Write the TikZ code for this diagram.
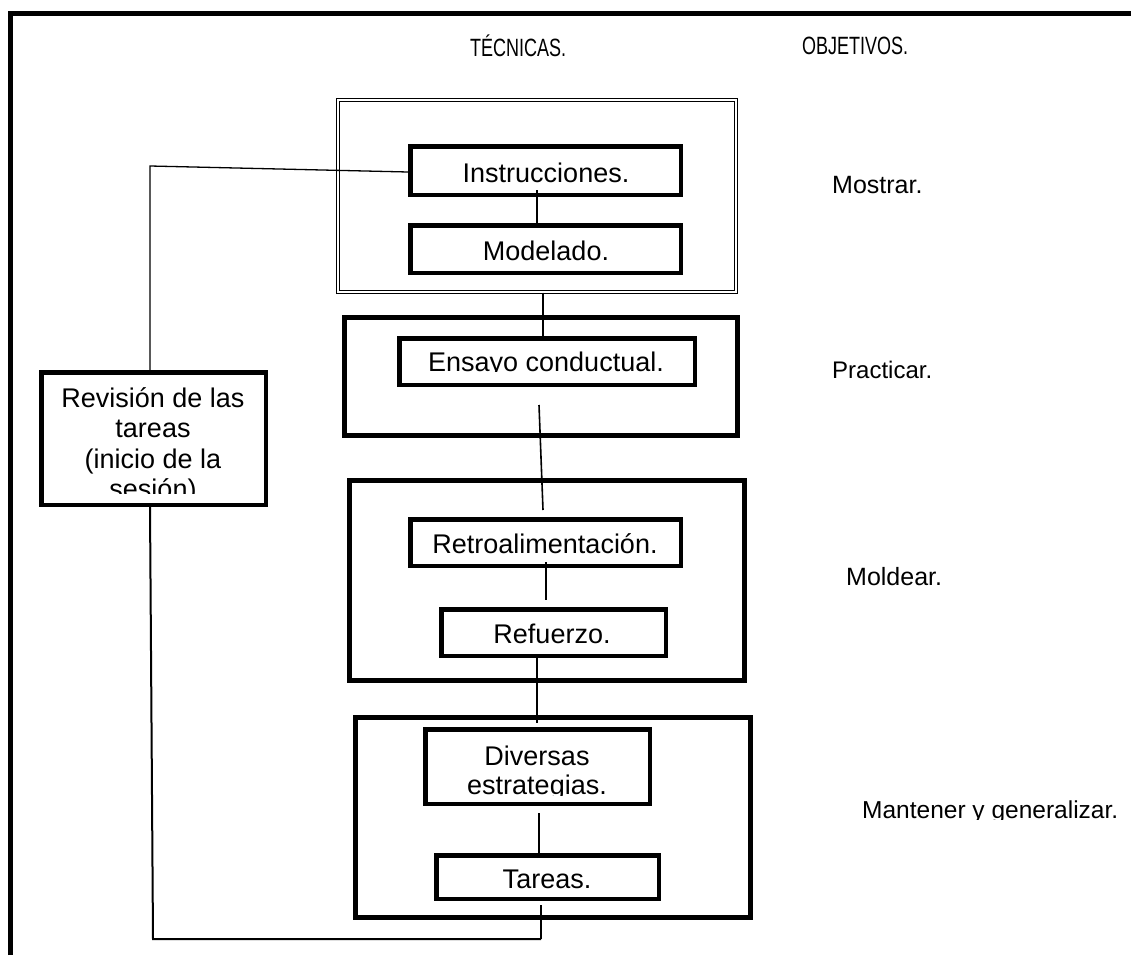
\documentclass[tikz,border=0pt]{standalone}
\usepackage{fontspec}
\setmainfont{Liberation Sans}
\newfontfamily\narrowsans[FakeStretch=0.72]{Liberation Sans}
\begin{document}
\begin{tikzpicture}[x=1pt,y=-1pt,
  boxtext/.style={font=\fontsize{27}{31}\selectfont, anchor=base, inner sep=0pt},
  headtext/.style={font=\narrowsans\fontsize{25}{29}\selectfont, anchor=base west, inner sep=0pt},
  goaltext/.style={font=\fontsize{25}{29}\selectfont, anchor=base west, inner sep=0pt},
  stepbox/.style={draw, line width=4.5pt, rectangle, inner sep=0pt, line join=miter},
  groupbox/.style={draw, line width=5pt, rectangle, inner sep=0pt},
  dblbox/.style={draw, double, line width=1pt, double distance=2pt, rectangle, inner sep=0pt},
  link/.style={line width=1.6pt},
]
\useasboundingbox (0,0) rectangle (1131,955);

% outer frame: top and left edges only
\coordinate (frameBL) at (10,955);
\coordinate (frameTL) at (10,13.5);
\coordinate (frameTR) at (1131,13.5);
\draw[line width=5pt] (frameBL) -- (frameTL) -- (frameTR);

% column headings
\node[headtext] (htec) at (470,57) {TÉCNICAS.};
\node[headtext] (hobj) at (802,55) {OBJETIVOS.};

% group frames
\node[dblbox, minimum width=398pt, minimum height=192pt] (gshow) at (537,196) {};
\node[groupbox, minimum width=393pt, minimum height=118pt] (gprac) at (541,376.5) {};
\node[groupbox, minimum width=395pt, minimum height=200pt] (gmold) at (547,580.5) {};
\node[groupbox, minimum width=395pt, minimum height=200pt] (gkeep) at (553,817.5) {};

% technique boxes
\node[stepbox, minimum width=270.5pt, minimum height=48.5pt] (instr) at (545.5,170.5) {};
\node[boxtext] (tinstr) at (546,182) {Instrucciones.};

\node[stepbox, minimum width=270.5pt, minimum height=47.5pt] (model) at (545.5,249) {};
\node[boxtext] (tmodel) at (546,260) {Modelado.};

\node[stepbox, minimum width=295.5pt, minimum height=46.5pt] (ensayo) at (547,361.5) {};
\begin{scope}
  \clip (400,340) rectangle (694,371.5);
  \node[boxtext] (tensayo) at (546,371) {Ensayo conductual.};
\end{scope}

\node[stepbox, minimum width=270.5pt, minimum height=46.5pt] (retro) at (545.5,542.5) {};
\node[boxtext] (tretro) at (545,553) {Retroalimentación.};

\node[stepbox, minimum width=224.5pt, minimum height=46.5pt] (refu) at (553.5,632.5) {};
\node[boxtext] (trefu) at (552,643) {Refuerzo.};

\node[stepbox, minimum width=224.5pt, minimum height=74.5pt] (diver) at (537.5,766.5) {};
\begin{scope}
  \clip (426,730) rectangle (649,795);
  \node[boxtext] (tdiver1) at (537,765) {Diversas};
  \node[boxtext] (tdiver2) at (537,794) {estrategias.};
\end{scope}

\node[stepbox, minimum width=222.5pt, minimum height=43.5pt] (tareas) at (547.5,877) {};
\node[boxtext] (ttareas) at (547,888) {Tareas.};

% review box on the left
\node[stepbox, minimum width=224.5pt, minimum height=132.5pt] (revis) at (153.5,438.5) {};
\begin{scope}
  \clip (42,373) rectangle (265,493);
  \node[boxtext] (trev1) at (153,407) {Revisión de las};
  \node[boxtext] (trev2) at (153,437.5) {tareas};
  \node[boxtext] (trev3) at (153,468) {(inicio de la};
  \node[boxtext] (trev4) at (153,498.5) {sesión)};
\end{scope}

% objectives
\node[goaltext] (omostrar) at (832,193) {Mostrar.};
\node[goaltext, font=\fontsize{24}{28}\selectfont] (opract) at (832,378) {Practicar.};
\node[goaltext] (omold) at (846,585) {Moldear.};
\begin{scope}
  \clip (850,790) rectangle (1131,819);
  \node[goaltext, font=\fontsize{24.5}{28}\selectfont] (omant) at (862,818) {Mantener y generalizar.};
\end{scope}

% connectors between techniques
\draw[link] ([xshift=-8.5pt,yshift=7pt]instr.south) -- ([xshift=-8.5pt]model.north);
\draw[link] ([xshift=6pt]gshow.south) -- ([xshift=-4pt]ensayo.north);
\draw[link] ([xshift=-8pt,yshift=-18pt]ensayo.south) -- ([xshift=-2.5pt,yshift=7pt]retro.north);
\draw[link] ([xshift=0.5pt,yshift=6pt]retro.south) -- ([xshift=-7.5pt,yshift=7pt]refu.north);
\draw[link] ([xshift=-16.5pt,yshift=4pt]refu.south) -- ([xshift=-0.5pt,yshift=4pt]diver.north);
\draw[link] ([xshift=1.5pt,yshift=-7pt]diver.south) -- ([xshift=-8.5pt]tareas.north);

% feedback loop from the last step back to the review and the first step
\coordinate (loopBR) at (541,939);
\coordinate (loopBL) at (153,939);
\coordinate (loopTL) at (150,166);
\draw[link] ([xshift=-6.5pt,yshift=-4pt]tareas.south) -- (loopBR);
\draw[link, line width=2pt] (loopBR) -- (loopBL) -- ([xshift=-3.5pt]revis.south);
\draw[link, line width=1.3pt] ([xshift=-3.5pt]revis.north) -- (loopTL) -- ([yshift=-1.5pt]instr.west);
\end{tikzpicture}
\end{document}
